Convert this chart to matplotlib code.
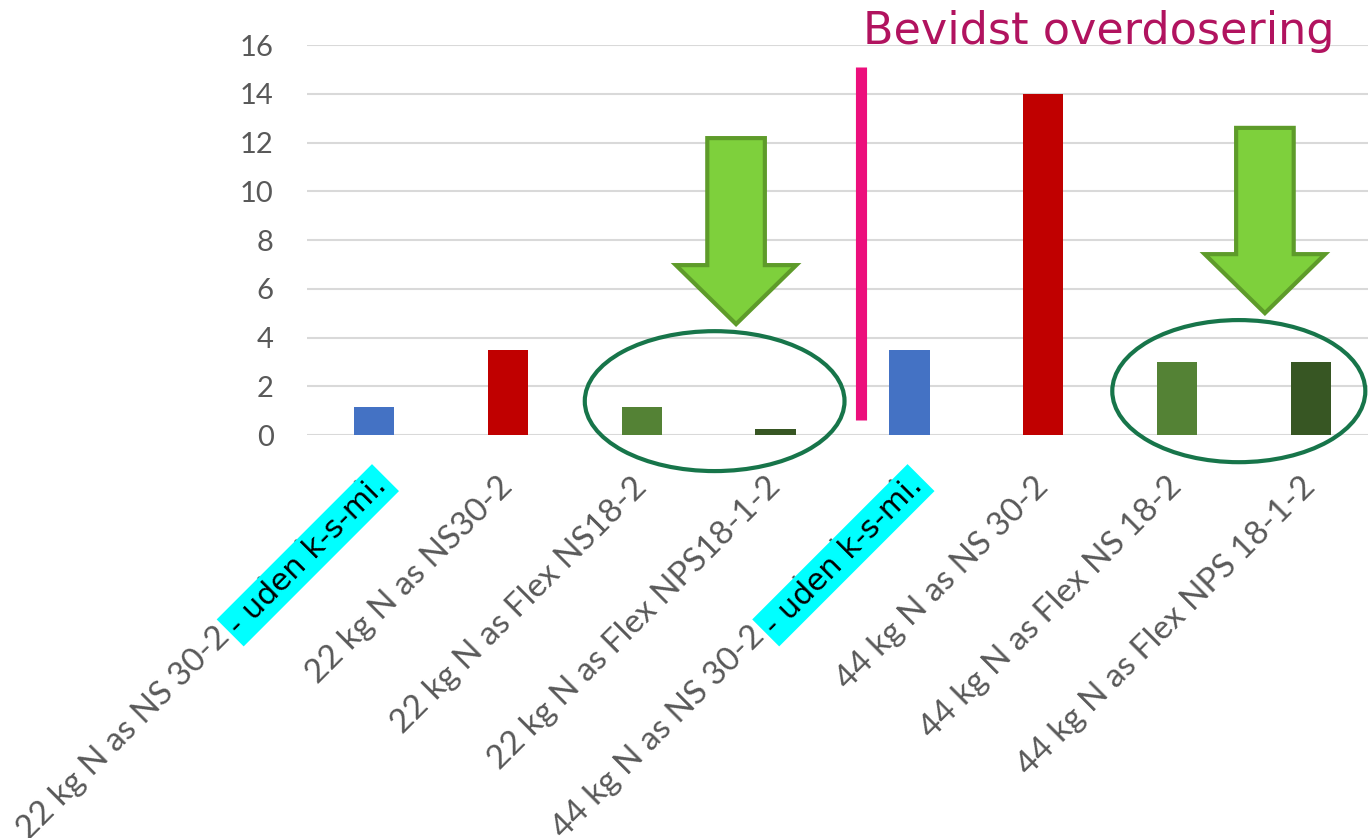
import matplotlib.pyplot as plt
from matplotlib.patches import Ellipse, FancyArrow

# data
labels = ['22 kg N as NS 30-2 - uden k-s-mi.', '22 kg N as NS30-2', '22 kg N as Flex NS18-2',
          '22 kg N as Flex NPS18-1-2', '44 kg N as NS 30-2 - uden k-s-mi.', '44 kg N as NS 30-2',
          '44 kg N as Flex NS 18-2', '44 kg N as Flex NPS 18-1-2']
values = [1.15, 3.5, 1.15, 0.25, 3.5, 14, 3.0, 3.0]
colors = ['#4472C4', '#C00000', '#548235', '#375623', '#4472C4', '#C00000', '#548235', '#375623']
highlight = [0, 4]
highlight_text = '- uden k-s-mi.'
yticks = [0, 2, 4, 6, 8, 10, 12, 14, 16]

# annotation shapes (data coords)
divider_x, divider_y = 3.64, (0.6, 15.1)
arrows = [(2.705, 12.18, 4.55), (6.655, 12.6, 5.0)]
ellipses = [((2.545, 1.39), 1.94, 5.74), ((6.46, 1.8), 1.89, 5.83)]

fig = plt.figure(figsize=(13.68, 8.38), dpi=100)
ax = fig.add_axes([0.2244, 0.4809, 0.7756, 0.4654])

x = range(len(values))
ax.bar(x, values, width=0.3, color=colors, zorder=3)

ax.set_xlim(-0.5, 7.425)
ax.set_ylim(0, 16)
ax.set_yticks(yticks)
ax.set_yticklabels([str(t) for t in yticks], fontsize=21, color='#595959', family='Lato')
ax.tick_params(axis='y', length=0, pad=24)
ax.set_xticks(list(x))
ax.set_xticklabels(labels, rotation=45, ha='right', va='center', rotation_mode='anchor',
                   fontsize=24, color='#595959', family='Lato')
ax.tick_params(axis='x', length=0, pad=34)
ax.grid(axis='y', color='#D9D9D9', lw=1.5, zorder=0)
for s in ax.spines.values():
    s.set_visible(False)

# cyan highlight over the end of two labels
for i in highlight:
    ax.annotate(highlight_text, xy=(i, 0), xycoords=('data', 'axes fraction'),
                xytext=(6, -33), textcoords='offset points', rotation=45,
                rotation_mode='anchor', ha='right', va='center', fontsize=22,
                family='DejaVu Sans', color='black', annotation_clip=False,
                bbox=dict(boxstyle='square,pad=0.15', fc='#00FFFF', ec='none'))

# pink divider and text
ax.plot([divider_x, divider_x], divider_y, color='#EC0F7C', lw=8, solid_capstyle='butt',
        zorder=4, clip_on=False)
fig.text(0.631, 0.948, 'Bevidst overdosering', fontsize=32, color='#B1135F',
         family='DejaVu Sans', va='baseline')

# green arrows
for xc, ytop, ytip in arrows:
    arr = FancyArrow(xc, ytop, 0, ytip - ytop, width=0.43, head_width=0.9, head_length=2.42,
                     length_includes_head=True, fc='#7ED03C', ec='#5E9B2A', lw=3,
                     zorder=5, clip_on=False)
    ax.add_patch(arr)

# ellipses
for c, w, h in ellipses:
    ax.add_patch(Ellipse(c, w, h, fill=False, ec='#17754A', lw=3, zorder=6, clip_on=False))

fig.savefig('out.png', dpi=100)
